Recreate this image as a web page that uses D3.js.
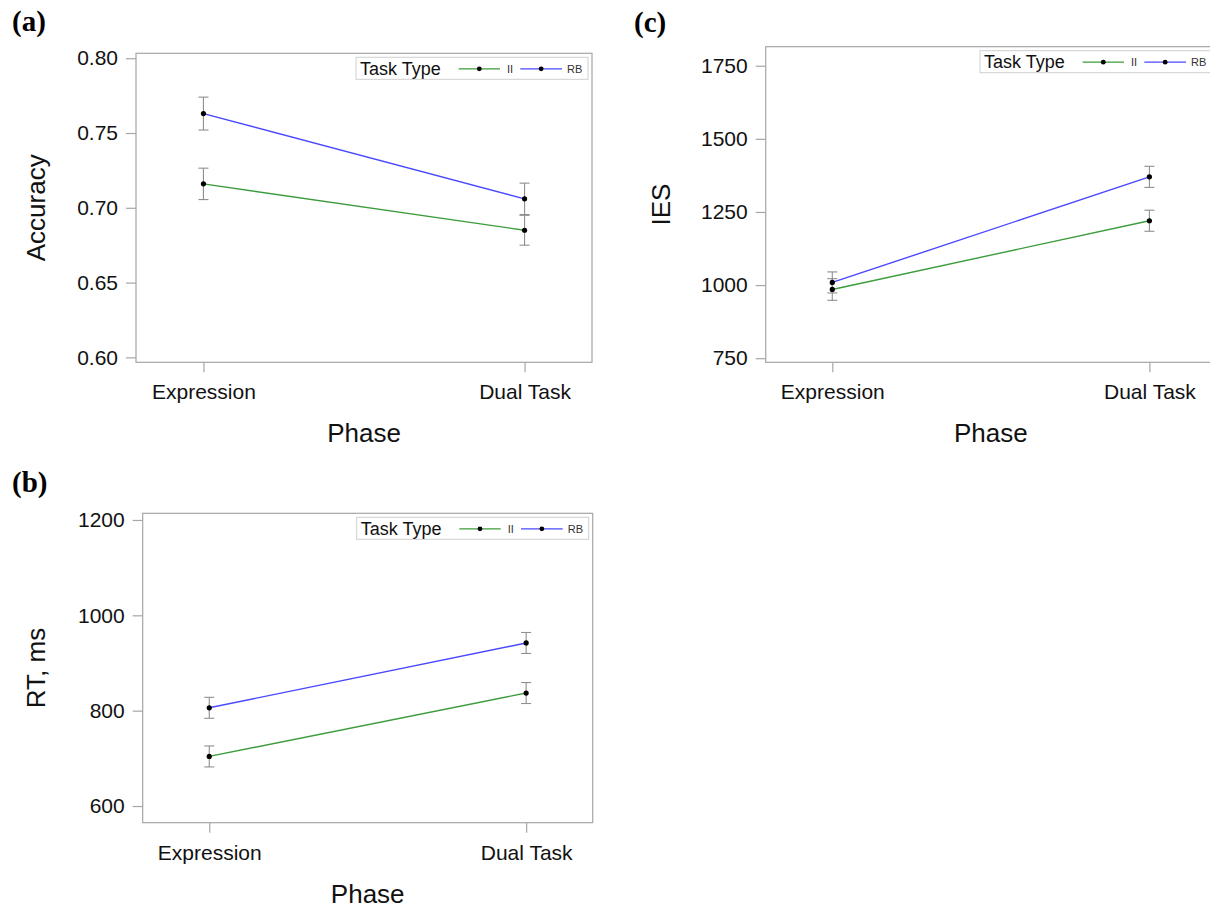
<!DOCTYPE html>
<html>
<head>
<meta charset="utf-8">
<script src="https://cdn.jsdelivr.net/npm/d3@7"></script>
<style>
  html, body { margin: 0; padding: 0; background: #fff; }
  svg { display: block; }
  text { font-family: "Liberation Sans", Arial, sans-serif; }
</style>
</head>
<body>
<svg id="fig" width="1210" height="909"></svg>
<script>
// Phases on the x axis
const phases = ["Expression", "Dual Task"];
const taskTypes = ["II", "RB"];

// (a) Accuracy: means and error half-widths per phase
const accII = [0.716, 0.685];
const accIIErr = [0.0105, 0.010];
const accRB = [0.763, 0.706];
const accRBErr = [0.011, 0.0105];
const accTicks = [0.60, 0.65, 0.70, 0.75, 0.80];
const accLimits = [0.5967, 0.8033];

// (b) Response time, ms
const rtII = [704, 837];
const rtIIErr = [22, 22];
const rtRB = [806, 942];
const rtRBErr = [22, 22];
const rtTicks = [600, 800, 1000, 1200];
const rtLimits = [565, 1214];

// (c) Inverse efficiency score
const iesII = [985, 1220];
const iesIIErr = [37, 36];
const iesRB = [1009, 1370];
const iesRBErr = [36, 36];
const iesTicks = [750, 1000, 1250, 1500, 1750];
const iesLimits = [736, 1815];

const seriesColors = { II: "#3c9c3c", RB: "#4848ff" };
const frameColor = "#a6a6a6";
const errColor = "#8f8f8f";

const panels = [
  { tag: "(a)", tagX: 12, tagY: 31, title: "Accuracy", titleX: 45,
    left: 136, right: 592, top: 53.3, bottom: 362.3,
    ticks: accTicks, limits: accLimits, fmt: d3.format(".2f"),
    series: { II: [accII, accIIErr], RB: [accRB, accRBErr] } },
  { tag: "(b)", tagX: 12, tagY: 492, title: "RT, ms", titleX: 45,
    left: 142.7, right: 592.7, top: 513.3, bottom: 822.7,
    ticks: rtTicks, limits: rtLimits, fmt: d3.format("d"),
    series: { II: [rtII, rtIIErr], RB: [rtRB, rtRBErr] } },
  { tag: "(c)", tagX: 634, tagY: 32, title: "IES", titleX: 670,
    left: 765.7, right: 1216, top: 46.7, bottom: 362.3,
    ticks: iesTicks, limits: iesLimits, fmt: d3.format("d"),
    series: { II: [iesII, iesIIErr], RB: [iesRB, iesRBErr] } }
];

const svg = d3.select("#fig");

panels.forEach(p => {
  const g = svg.append("g");

  const x = d3.scalePoint().domain(phases).range([p.left, p.right]).padding(0.21);
  const y = d3.scaleLinear().domain(p.limits).range([p.bottom, p.top]);

  // panel tag
  g.append("text")
    .attr("x", p.tagX).attr("y", p.tagY)
    .style("font-family", "'Liberation Serif', 'Times New Roman', serif")
    .style("font-weight", "bold").style("font-size", "29px")
    .text(p.tag);

  // frame
  g.append("rect")
    .attr("x", p.left).attr("y", p.top)
    .attr("width", p.right - p.left).attr("height", p.bottom - p.top)
    .attr("fill", "none").attr("stroke", frameColor).attr("stroke-width", 1.2);

  // y axis
  const ya = g.append("g").attr("transform", `translate(${p.left},0)`)
    .call(d3.axisLeft(y).tickValues(p.ticks).tickFormat(p.fmt).tickSize(10).tickPadding(8));
  ya.select(".domain").remove();
  ya.selectAll(".tick line").attr("stroke", frameColor).attr("stroke-width", 1.2);
  ya.selectAll(".tick text").style("font-size", "21px").style("font-family", "'Liberation Sans', Arial, sans-serif").attr("fill", "#111");

  // x axis
  const xa = g.append("g").attr("transform", `translate(0,${p.bottom})`)
    .call(d3.axisBottom(x).tickSize(10).tickPadding(12));
  xa.select(".domain").remove();
  xa.selectAll(".tick line").attr("stroke", frameColor).attr("stroke-width", 1.2);
  xa.selectAll(".tick text").style("font-size", "21px").style("font-family", "'Liberation Sans', Arial, sans-serif").attr("fill", "#111");

  // axis titles
  g.append("text")
    .attr("x", (p.left + p.right) / 2).attr("y", p.bottom + 80)
    .attr("text-anchor", "middle").style("font-size", "26px").attr("fill", "#111")
    .text("Phase");
  g.append("text")
    .attr("transform", `translate(${p.titleX},${(p.top + p.bottom) / 2}) rotate(-90)`)
    .attr("text-anchor", "middle").style("font-size", "26px").attr("fill", "#111")
    .text(p.title);

  // error bars
  taskTypes.forEach(t => {
    const [means, errs] = p.series[t];
    const eb = g.append("g").attr("stroke", errColor).attr("stroke-width", 1.1);
    phases.forEach((ph, i) => {
      const cx = x(ph);
      const lo = y(means[i] - errs[i]), hi = y(means[i] + errs[i]);
      eb.append("line").attr("x1", cx).attr("x2", cx).attr("y1", lo).attr("y2", hi);
      eb.append("line").attr("x1", cx - 5).attr("x2", cx + 5).attr("y1", lo).attr("y2", lo);
      eb.append("line").attr("x1", cx - 5).attr("x2", cx + 5).attr("y1", hi).attr("y2", hi);
    });
  });

  // mean lines and points
  const line = d3.line().x((d, i) => x(phases[i])).y(d => y(d));
  taskTypes.forEach(t => {
    const means = p.series[t][0];
    g.append("path").datum(means)
      .attr("d", line).attr("fill", "none")
      .attr("stroke", seriesColors[t]).attr("stroke-width", 1.4);
  });
  taskTypes.forEach(t => {
    const means = p.series[t][0];
    g.selectAll(null).data(means).enter().append("circle")
      .attr("cx", (d, i) => x(phases[i])).attr("cy", d => y(d))
      .attr("r", 2.6).attr("fill", "#000");
  });

  // legend
  const lx = p.right - 4 - 232, ly = p.top + 4;
  const lg = g.append("g").attr("transform", `translate(${lx},${ly})`);
  lg.append("rect").attr("width", 232).attr("height", 22)
    .attr("fill", "#fff").attr("stroke", "#cfcfcf").attr("stroke-width", 1);
  lg.append("text").attr("x", 4).attr("y", 17.5)
    .style("font-size", "18px").attr("fill", "#111").text("Task Type");
  const items = [
    { key: "II", x0: 102.6, x1: 144, tx: 151 },
    { key: "RB", x0: 164.3, x1: 206, tx: 211 }
  ];
  items.forEach(it => {
    lg.append("line").attr("x1", it.x0).attr("x2", it.x1).attr("y1", 11.5).attr("y2", 11.5)
      .attr("stroke", seriesColors[it.key]).attr("stroke-width", 1.3);
    lg.append("circle").attr("cx", (it.x0 + it.x1) / 2).attr("cy", 11.5).attr("r", 2.4).attr("fill", "#000");
    lg.append("text").attr("x", it.tx).attr("y", 15.5)
      .style("font-size", "11px").attr("fill", "#333").text(it.key);
  });
});
</script>
</body>
</html>
